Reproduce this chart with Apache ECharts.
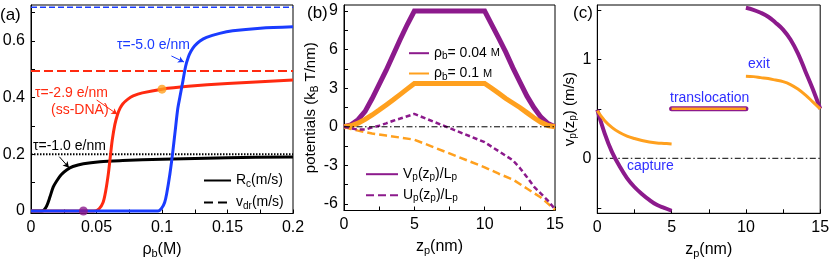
<!DOCTYPE html>
<html><head><meta charset="utf-8">
<script src="https://cdn.jsdelivr.net/npm/echarts@6/dist/echarts.min.js"></script>
<style>html,body{margin:0;padding:0;background:#fff}#c{width:830px;height:260px}</style>
</head><body><div id="c"></div>
<script>
// ---------- Panel (a): capture rate vs salt concentration ----------
const rcTau1 = [[0,0],[0.008,0],[0.01,0.004],[0.012,0.018],[0.0145,0.05],[0.017,0.085],[0.0196,0.106],[0.023,0.128],[0.0272,0.145],[0.032,0.157],[0.04,0.167],[0.0527,0.174],[0.07,0.178],[0.1,0.183],[0.15,0.188],[0.2,0.191]];
const rcTau29 = [[0,0],[0.048,0],[0.052,0.008],[0.055,0.03],[0.057,0.07],[0.059,0.13],[0.0605,0.19],[0.062,0.25],[0.064,0.305],[0.066,0.34],[0.068,0.363],[0.07,0.378],[0.074,0.395],[0.078,0.406],[0.085,0.417],[0.1,0.43],[0.12,0.44],[0.15,0.45],[0.2,0.462]];
const rcTau5 = [[0,0],[0.097,0],[0.1,0.012],[0.102,0.03],[0.1036,0.062],[0.106,0.13],[0.108,0.2],[0.11,0.28],[0.112,0.36],[0.1137,0.403],[0.116,0.46],[0.118,0.51],[0.12,0.542],[0.122,0.563],[0.125,0.583],[0.129,0.6],[0.134,0.613],[0.144,0.627],[0.154,0.636],[0.175,0.645],[0.2,0.65]];
const vdrTau = [0.2, 0.494, 0.719];           // drift velocities for tau = -1.0, -2.9, -5.0
const rhoRange = [0, 0.2];
const dotLow = [[0.04, 0]];
const dotHigh = [[0.1, 0.43]];
const arrowTau5 = [[0.1072, 0.5471], [0.1168, 0.5259]];
const arrowTau29 = [[0.0501, 0.3918], [0.0659, 0.3413]];
const arrowTau1 = [[0.0216, 0.1917], [0.0290, 0.1529]];
const aXTicks = [0,0.025,0.05,0.075,0.1,0.125,0.15,0.175,0.2];
const aXLabels = [0,0.05,0.1,0.15,0.2];
const aYTicks = [0,0.1,0.2,0.3,0.4,0.5,0.6,0.7];
const aYLabels = [0,0.2,0.4,0.6];

// ---------- Panel (b): potentials ----------
const vpLow = [[0,0],[0.5,0.15],[1,0.55],[1.5,1.2],[2,2.2],[2.5,3.3],[3,4.4],[3.5,5.6],[4,6.8],[4.5,7.95],[5,9],[10,9],[10.5,7.95],[11,6.9],[11.5,5.8],[12,4.6],[12.5,3.5],[13,2.4],[13.5,1.5],[14,0.75],[14.5,0.25],[15,0]];
const vpHigh = [[0,0],[0.5,0.08],[1,0.28],[1.5,0.58],[2,0.92],[2.5,1.3],[3,1.7],[3.5,2.1],[4,2.52],[4.5,2.95],[5,3.37],[10,3.37],[10.5,3.0],[11,2.6],[11.5,2.2],[12,1.85],[12.5,1.5],[13,1.1],[13.5,0.7],[14,0.35],[14.5,0.1],[15,0]];
const upLow = [[0,0],[0.5,-0.12],[1,-0.22],[1.5,-0.22],[2,-0.05],[2.5,0.08],[3,0.27],[3.5,0.47],[4,0.64],[4.5,0.82],[5,1.0],[10,-1.2],[11,-1.9],[12,-2.6],[12.5,-3.2],[13,-3.9],[13.5,-4.65],[14,-5.2],[14.5,-5.75],[15,-6.4]];
const upHigh = [[0,0],[0.5,-0.17],[1,-0.3],[1.5,-0.42],[2,-0.52],[3,-0.68],[4,-0.84],[5,-1.0],[10,-3.15],[11,-3.65],[12,-4.1],[13,-4.8],[14,-5.5],[15,-6.45]];
const zRange = [0, 15];
const bXTicks = [0,2.5,5,7.5,10,12.5,15];
const bXLabels = [0,5,10,15];
const bYTicks = [-6,-4.5,-3,-1.5,0,1.5,3,4.5,6,7.5,9];
const bYLabels = [-6,-3,0,3,6,9];

// ---------- Panel (c): velocity ----------
const capLow = [[0,0.49],[0.5,0.25],[1,0.06],[1.5,-0.08],[2,-0.2],[2.5,-0.29],[3,-0.36],[3.5,-0.42],[4,-0.47],[4.5,-0.5],[5,-0.53]];
const capHigh = [[0,0.48],[0.5,0.38],[1,0.31],[1.5,0.26],[2,0.225],[2.5,0.2],[3,0.18],[3.5,0.165],[4,0.155],[4.5,0.15],[5,0.145]];
const transl = [[5,0.5],[10,0.5]];
const exitLow = [[10,1.52],[10.5,1.5],[11,1.47],[11.5,1.43],[12,1.37],[12.5,1.3],[13,1.2],[13.5,1.06],[14,0.88],[14.5,0.7],[15,0.5]];
const exitHigh = [[10,0.83],[10.5,0.825],[11,0.815],[11.5,0.805],[12,0.79],[12.5,0.774],[13,0.745],[13.5,0.7],[14,0.64],[14.5,0.57],[15,0.5]];
const cXTicks = [0,2.5,5,7.5,10,12.5,15];
const cXLabels = [0,5,10,15];
const cYTicks = [-0.5,0,0.5,1,1.5];
const cYLabels = [0,1];

const FONT = '"Liberation Sans", Arial, sans-serif';
const BLUE = '#1a3cff', RED = '#ff2a10', PURPLE = '#8c1a8c', ORANGE = '#ffa01e', TXTBLUE = '#2f2fff';

const rich = (fs, sfs) => ({
  n: {fontSize: fs, fontFamily: FONT, color: '#000', lineHeight: fs + 2},
  s: {fontSize: sfs, fontFamily: FONT, color: '#000', lineHeight: sfs, padding: [Math.round(fs*0.5), 0, 0, 0]},
  m: {fontSize: fs - 3, fontFamily: FONT, color: '#000', lineHeight: fs - 3}
});

function hLine(v) { return rhoRange.map(x => [x, v]); }
function zeroLine() { return zRange.map(x => [x, 0]); }

function xAx(gi, min, max, ticks, labels, name, gap, extra) {
  return Object.assign({
    type: 'value', gridIndex: gi, min, max,
    axisLine: {show: true, onZero: false, lineStyle: {color: '#000', width: 1}},
    axisTick: {show: true, inside: true, length: 4, customValues: ticks, lineStyle: {color: '#000', width: 1}},
    axisLabel: {customValues: labels, fontSize: 16, color: '#000', fontFamily: FONT, margin: 6},
    splitLine: {show: false},
    name: name, nameLocation: 'middle', nameGap: gap,
    nameTextStyle: {rich: rich(16, 11)}
  }, extra || {});
}
function yAx(gi, min, max, ticks, labels, name, gap, extra) {
  return Object.assign({
    type: 'value', gridIndex: gi, min, max,
    axisLine: {show: true, onZero: false, lineStyle: {color: '#000', width: 1}},
    axisTick: {show: true, inside: true, length: 4, customValues: ticks, lineStyle: {color: '#000', width: 1}},
    axisLabel: {customValues: labels, fontSize: 16, color: '#000', fontFamily: FONT, margin: 6},
    splitLine: {show: false},
    name: name, nameLocation: 'middle', nameGap: gap,
    nameTextStyle: {rich: rich(15, 10)}
  }, extra || {});
}
function ln(name, gi, data, color, width, type, extra) {
  return Object.assign({
    name, type: 'line', xAxisIndex: gi, yAxisIndex: gi, data,
    symbol: 'none', showSymbol: false, silent: true,
    lineStyle: {color, width, type: type || 'solid', cap: 'butt'},
    itemStyle: {color}
  }, extra || {});
}
function arrow(pts, color) {
  return {
    silent: true, symbol: ['none', 'arrow'], symbolSize: [5, 6], animation: false,
    label: {show: false}, lineStyle: {color, width: 1, type: 'solid'},
    data: [[{coord: pts[0]}, {coord: pts[1]}]]
  };
}
const legendBase = {orient: 'vertical', itemHeight: 14, padding: 0, selectedMode: false,
  itemStyle: {color: 'rgba(0,0,0,0)', borderColor: 'rgba(0,0,0,0)', borderWidth: 0, opacity: 0}};

const gridBase = {show: true, borderColor: '#000', borderWidth: 1, backgroundColor: 'transparent', containLabel: false, outerBoundsMode: 'none'};

const option = {
  animation: false,
  backgroundColor: '#fff',
  textStyle: {fontFamily: FONT},
  grid: [
    Object.assign({left: 31, top: 5, width: 262, height: 208.5}, gridBase),
    Object.assign({left: 344, top: 5, width: 211, height: 205.5}, gridBase),
    Object.assign({left: 597.3, top: 5, width: 222.9, height: 208.3}, gridBase)
  ],
  xAxis: [
    xAx(0, 0, 0.2, aXTicks, aXLabels, '{n|ρ}{s|b}{n|(M)}', 23),
    xAx(1, 0, 15, bXTicks, bXLabels, '{n|z}{s|p}{n|(nm)}', 17, {nameTextStyle: {rich: rich(16, 11), padding: [0, 20, 0, 0]}}),
    xAx(2, 0, 15, cXTicks, cXLabels, '{n|z}{s|p}{n|(nm)}', 19)
  ],
  yAxis: [
    yAx(0, -0.0088, 0.7271, aYTicks, aYLabels, '', 0),
    yAx(1, -6.51, 9.47, bYTicks, bYLabels, '{n|potentials (k}{s|B}{n| T/nm)}', 18),
    yAx(2, -0.5556, 1.5485, cYTicks, cYLabels, '{n|v}{s|p}{n|(z}{s|p}{n|) (m/s)}', 16)
  ],
  legend: [
    Object.assign({left: 203, top: 172, itemWidth: 27, itemGap: 5,
     data: ['Rc', 'vdr'], textStyle: {rich: rich(14, 10)},
     formatter: n => n === 'Rc' ? '{n|R}{s|c}{n|(m/s)}' : '{n|v}{s|dr}{n|(m/s)}'}, legendBase),
    Object.assign({left: 408, top: 44.7, itemWidth: 20, itemGap: 3.3,
     data: ['rhoLow', 'rhoHigh'], textStyle: {rich: rich(14, 10)},
     formatter: n => n === 'rhoLow' ? '{n|ρ}{s|b}{n|= 0.04 }{m|M}' : '{n|ρ}{s|b}{n|= 0.1 }{m|M}'}, legendBase),
    Object.assign({left: 365, top: 165.7, itemWidth: 32, itemGap: 4,
     data: ['Vp', 'Up'], textStyle: {rich: rich(14, 10)},
     formatter: n => n === 'Vp' ? '{n|V}{s|p}{n|(z}{s|p}{n|)/L}{s|p}' : '{n|U}{s|p}{n|(z}{s|p}{n|)/L}{s|p}'}, legendBase)
  ],
  graphic: [
    {type: 'text', x: 0, y: 15, style: {text: '(a)', font: '17px ' + FONT, fill: '#000', verticalAlign: 'middle'}},
    {type: 'text', x: 307, y: 13, style: {text: '(b)', font: '17px ' + FONT, fill: '#000', verticalAlign: 'middle'}},
    {type: 'text', x: 573, y: 13, style: {text: '(c)', font: '17px ' + FONT, fill: '#000', verticalAlign: 'middle'}},
    {type: 'text', x: 117, y: 45, style: {text: 'τ=-5.0 e/nm', font: '14px ' + FONT, fill: BLUE, verticalAlign: 'middle'}},
    {type: 'text', x: 35, y: 93, style: {text: 'τ=-2.9 e/nm', font: '14px ' + FONT, fill: RED, verticalAlign: 'middle'}},
    {type: 'text', x: 51, y: 110, style: {text: '(ss-DNA)', font: '14px ' + FONT, fill: RED, verticalAlign: 'middle'}},
    {type: 'text', x: 33, y: 146, style: {text: 'τ=-1.0 e/nm', font: '14px ' + FONT, fill: '#000', verticalAlign: 'middle'}},
    {type: 'text', x: 748, y: 64, style: {text: 'exit', font: '14px ' + FONT, fill: TXTBLUE, verticalAlign: 'middle'}},
    {type: 'text', x: 670, y: 98, style: {text: 'translocation', font: '14px ' + FONT, fill: TXTBLUE, verticalAlign: 'middle'}},
    {type: 'text', x: 627, y: 166, style: {text: 'capture', font: '14px ' + FONT, fill: TXTBLUE, verticalAlign: 'middle'}}
  ],
  series: [
    // panel a
    ln('vdr1', 0, hLine(vdrTau[0]), '#000', 2, [1.5, 1.5]),
    ln('vdr29', 0, hLine(vdrTau[1]), RED, 2, [9, 4]),
    ln('vdr5', 0, hLine(vdrTau[2]), BLUE, 1.5, [6, 3]),
    ln('tau1', 0, rcTau1, '#000', 3, 'solid', {smooth: 0.3, markLine: arrow(arrowTau1, '#000')}),
    ln('tau29', 0, rcTau29, RED, 3, 'solid', {smooth: 0.3, markLine: arrow(arrowTau29, RED)}),
    ln('tau5', 0, rcTau5, BLUE, 3, 'solid', {smooth: 0.3, markLine: arrow(arrowTau5, BLUE)}),
    {type: 'scatter', xAxisIndex: 0, yAxisIndex: 0, data: dotLow, symbolSize: 9, itemStyle: {color: PURPLE}, silent: true, z: 5},
    {type: 'scatter', xAxisIndex: 0, yAxisIndex: 0, data: dotHigh, symbolSize: 9, itemStyle: {color: ORANGE}, silent: true, z: 5},
    ln('Rc', 0, [], '#000', 3, 'solid'),
    ln('vdr', 0, [], '#000', 2.5, [9, 5]),
    // panel b
    ln('rhoLow', 1, vpLow, PURPLE, 5, 'solid', {lineStyle: {color: PURPLE, width: 5, join: 'miter'}}),
    ln('rhoHigh', 1, vpHigh, ORANGE, 5, 'solid', {lineStyle: {color: ORANGE, width: 5, join: 'miter'}}),
    ln('upHigh', 1, upHigh, ORANGE, 2.5, [8, 4]),
    ln('upLow', 1, upLow, PURPLE, 2.5, [5, 3]),
    ln('zeroB', 1, zeroLine(), '#000', 1, [6, 2.5, 1.5, 2.5]),
    ln('Vp', 1, [], PURPLE, 3.5, 'solid'),
    ln('Up', 1, [], PURPLE, 3.5, [8, 4]),
    // panel c
    ln('zeroC', 2, zeroLine(), '#000', 1, [6, 2.5, 1.5, 2.5]),
    ln('capLow', 2, capLow, PURPLE, 4, 'solid', {smooth: 0.4}),
    ln('capHigh', 2, capHigh, ORANGE, 3, 'solid', {smooth: 0.4}),
    ln('trLow', 2, transl, PURPLE, 5, 'solid', {lineStyle: {color: PURPLE, width: 5, cap: 'round'}}),
    ln('trHigh', 2, transl, ORANGE, 2.5, 'solid'),
    ln('exLow', 2, exitLow, PURPLE, 4, 'solid', {smooth: 0.4}),
    ln('exHigh', 2, exitHigh, ORANGE, 3, 'solid', {smooth: 0.4})
  ]
};
const chart = echarts.init(document.getElementById('c'), null, {renderer: 'canvas'});
chart.setOption(option);
</script></body></html>
